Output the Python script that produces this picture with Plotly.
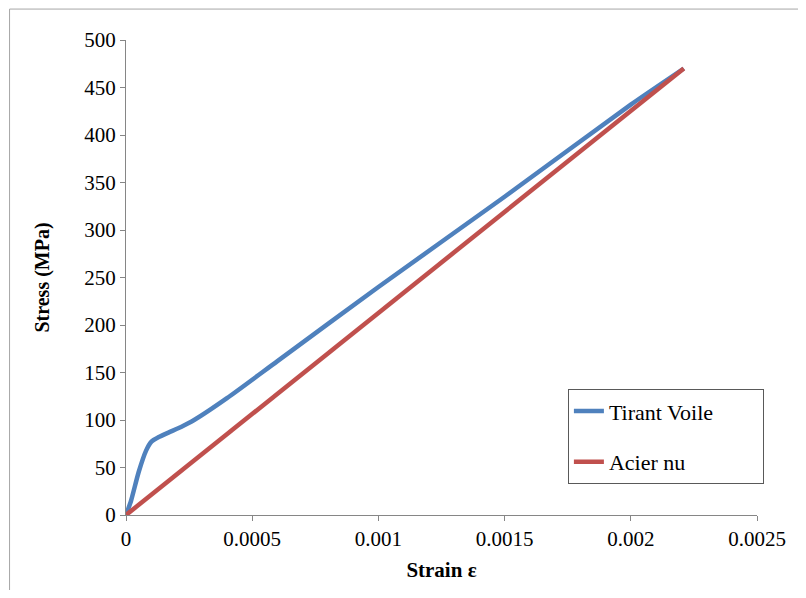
import plotly.graph_objects as go

# Data
tirant_strain = [0, 0.00002, 0.00005, 0.00008, 0.0001, 0.00013, 0.00017, 0.00022, 0.00027,
                 0.0004, 0.0006, 0.001, 0.0015, 0.002, 0.00221]
tirant_stress = [0, 15, 45, 68, 77, 82, 87, 93, 100, 123, 162, 240, 335, 432, 470]
acier_strain = [0, 0.00221]
acier_stress = [0, 470]

x_ticks = [0, 0.0005, 0.001, 0.0015, 0.002, 0.0025]
x_tick_labels = ["0", "0.0005", "0.001", "0.0015", "0.002", "0.0025"]
y_ticks = [0, 50, 100, 150, 200, 250, 300, 350, 400, 450, 500]
series_names = ["Tirant Voile", "Acier nu"]

# page body has an 8px margin; figure fills the rest of the window
OFF = 8
W, H = 806 - 2 * OFF, 598 - 2 * OFF
ML, MT = 126 - OFF, 40 - OFF
PW, PH = 634, 476
MR, MB = W - ML - PW, H - MT - PH

def px_x(px):  # window pixel -> paper fraction
    return (px - OFF - ML) / PW

def px_y(py):
    return (MT + PH - (py - OFF)) / PH

PAD = "\u00a0" * 8

fig = go.Figure()
fig.add_trace(go.Scatter(x=tirant_strain, y=tirant_stress, mode="lines", name=series_names[0] + PAD,
                         line=dict(color="#4F81BD", width=4.5, shape="spline", smoothing=0.6),
                         legendgroup="a"))
fig.add_trace(go.Scatter(x=acier_strain, y=acier_stress, mode="lines", name=series_names[1],
                         line=dict(color="#C0504D", width=4.5), legendgroup="b"))

font = "Liberation Serif, Times New Roman, serif"
axis_common = dict(showline=True, linecolor="#868686", linewidth=1, ticks="outside",
                   tickcolor="#868686", ticklen=5, showgrid=False, zeroline=False,
                   tickfont=dict(family=font, size=21, color="black"))

fig.update_layout(
    width=W, height=H,
    margin=dict(l=ML, r=MR, t=MT, b=MB),
    paper_bgcolor="white", plot_bgcolor="white",
    xaxis=dict(range=[0, 0.0025], tickvals=x_ticks, ticktext=x_tick_labels,
               title=dict(text="<b>Strain ε</b>", font=dict(family=font, size=21, color="black"),
                          standoff=12),
               **axis_common),
    yaxis=dict(range=[0, 500], tickvals=y_ticks,
               title=dict(text="<b>Stress (MPa)</b>", font=dict(family=font, size=20, color="black"),
                          standoff=29),
               **axis_common),
    legend=dict(x=px_x(570), y=px_y(390), xanchor="left", yanchor="top",
                bordercolor="#595959", borderwidth=1, bgcolor="white",
                font=dict(family=font, size=22, color="black"),
                tracegroupgap=19, traceorder="grouped"),
    showlegend=True,
)

# chart-area border (cropped in reference)
fig.add_shape(type="rect", xref="paper", yref="paper",
              x0=px_x(9), x1=px_x(830),
              y0=px_y(620), y1=px_y(9),
              line=dict(color="#A6A6A6", width=1), layer="below")

fig.write_html("out.html")
